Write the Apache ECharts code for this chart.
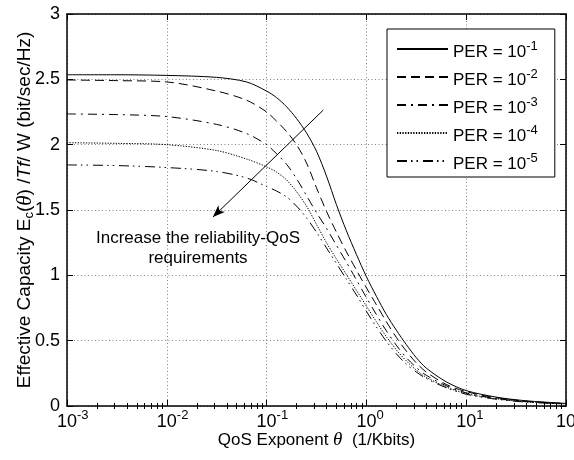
<!DOCTYPE html>
<html><head><meta charset="utf-8">
<script src="https://cdn.jsdelivr.net/npm/echarts@6/dist/echarts.min.js"></script>
<style>html,body{margin:0;padding:0;background:#fff}#c{width:574px;height:460px}</style>
</head><body><div id="c"></div>
<script>
// QoS exponent theta (1/Kbits)
const theta = [0.001, 0.003162, 0.01, 0.03162, 0.0631, 0.1, 0.1259, 0.1585, 0.1995, 0.2512, 0.3162, 0.3981, 0.5012, 0.631, 0.7943, 1, 1.259, 1.585, 1.995, 2.512, 3.162, 3.981, 6.31, 10, 19.95, 39.81, 100];
// Effective capacity (bit/sec/Hz) for each PER
const ecPer1 = [2.535, 2.535, 2.53, 2.515, 2.48, 2.41, 2.36, 2.29, 2.20, 2.09, 1.95, 1.76, 1.54, 1.34, 1.16, 0.99, 0.84, 0.70, 0.58, 0.47, 0.37, 0.29, 0.185, 0.118, 0.068, 0.04, 0.02];
const ecPer2 = [2.495, 2.49, 2.48, 2.41, 2.34, 2.25, 2.18, 2.10, 2.0, 1.86, 1.67, 1.49, 1.33, 1.18, 1.04, 0.905, 0.775, 0.645, 0.525, 0.42, 0.33, 0.26, 0.165, 0.11, 0.063, 0.037, 0.018];
const ecPer3 = [2.235, 2.23, 2.215, 2.155, 2.085, 2.0, 1.93, 1.85, 1.74, 1.61, 1.48, 1.36, 1.23, 1.10, 0.965, 0.83, 0.70, 0.575, 0.465, 0.37, 0.295, 0.235, 0.155, 0.10, 0.058, 0.034, 0.017];
const ecPer4 = [2.015, 2.01, 2.0, 1.955, 1.89, 1.83, 1.79, 1.73, 1.64, 1.53, 1.39, 1.25, 1.125, 1.005, 0.885, 0.765, 0.645, 0.53, 0.43, 0.345, 0.275, 0.22, 0.145, 0.095, 0.055, 0.032, 0.016];
const ecPer5 = [1.845, 1.84, 1.825, 1.795, 1.745, 1.68, 1.645, 1.60, 1.53, 1.44, 1.33, 1.21, 1.09, 0.97, 0.85, 0.725, 0.605, 0.495, 0.40, 0.32, 0.26, 0.21, 0.14, 0.09, 0.052, 0.03, 0.015];
const perExp = ['-1', '-2', '-3', '-4', '-5'];
const yTicks = [0, 0.5, 1, 1.5, 2, 2.5, 3];
// annotation arrow (data coords) and text
const arrowFrom = [0.37, 2.265];
const arrowTo = [0.029, 1.446];
const annoText = 'Increase the reliability-QoS\nrequirements';

const FONT = "'Liberation Sans', Arial, Helvetica, sans-serif";
const SERIF = "'Liberation Serif', 'DejaVu Serif', serif";
const dashStyles = ['solid', [9, 5], [9, 5, 2, 5], [1.3, 1.4], [10, 4, 1.5, 4, 1.5, 5]];
const seriesValues = [ecPer1, ecPer2, ecPer3, ecPer4, ecPer5];
const names = perExp.map(e => 'PER = 10^' + e);

const xMinorTicks = [];
for (let d = 0.001; d < 100; d *= 10) {
  for (let k = 2; k <= 9; k++) xMinorTicks.push(+(d * k).toPrecision(3));
}

const chart = echarts.init(document.getElementById('c'), null, {renderer: 'canvas'});

const baseX = {type: 'log', logBase: 10, min: 0.001, max: 100, gridIndex: 0};
const gridLine = {color: '#808080', width: 1, type: [1, 2.5]};

const series = seriesValues.map((vals, i) => ({
  name: names[i],
  type: 'line',
  xAxisIndex: 0, yAxisIndex: 0,
  data: theta.map((t, j) => [t, vals[j]]),
  symbol: 'none',
  showSymbol: false,
  smooth: 0.3,
  lineStyle: {color: '#000', width: 1, type: dashStyles[i]},
  itemStyle: {color: '#000'},
  z: 3,
  animation: false
}));
series[0].markLine = {
  silent: true,
  animation: false,
  symbol: ['none', 'arrow'],
  symbolSize: [7, 12],
  label: {show: false},
  lineStyle: {color: '#000', width: 1, type: 'solid'},
  data: [[{coord: arrowFrom}, {coord: arrowTo}]]
};

const option = {
  animation: false,
  backgroundColor: '#fff',
  grid: {left: 67, right: 8, top: 14, bottom: 54, containLabel: false, outerBoundsMode: 'none'},
  xAxis: [
    Object.assign({}, baseX, {
      position: 'bottom',
      axisLine: {show: true, onZero: false, lineStyle: {color: '#000', width: 1.5}},
      axisTick: {show: true, inside: true, length: 6, lineStyle: {color: '#000', width: 1}},
      minorTick: {show: false},
      splitLine: {show: true, lineStyle: gridLine},
      axisLabel: {
        margin: 6,
        formatter: v => {
          const e = String(Math.round(Math.log10(v)));
          return '{h|' + e + '}{b|10}{s|' + e + '}';
        },
        rich: {
          b: {fontSize: 18, lineHeight: 20, fontFamily: FONT, color: '#000'},
          s: {fontSize: 13, lineHeight: 12, padding: [0, 0, 14, 0], fontFamily: FONT, color: '#000'},
          h: {fontSize: 13, lineHeight: 12, padding: [0, 0, 14, 0], fontFamily: FONT, color: 'rgba(0,0,0,0)'}
        }
      },
      name: '{n|QoS Exponent }{th|θ}{n|  (1/Kbits)}',
      nameLocation: 'middle',
      nameGap: 24,
      nameMoveOverlap: false,
      nameTextStyle: {
        rich: {
          n: {fontSize: 17, fontFamily: FONT, color: '#000', lineHeight: 20},
          th: {fontSize: 19, fontFamily: SERIF, fontStyle: 'italic', color: '#000', lineHeight: 20}
        }
      }
    }),
    Object.assign({}, baseX, {
      position: 'bottom',
      axisLine: {show: false},
      axisTick: {show: true, inside: true, length: 3, customValues: xMinorTicks, lineStyle: {color: '#000', width: 1}},
      axisLabel: {show: false},
      splitLine: {show: false}
    }),
    Object.assign({}, baseX, {
      position: 'top',
      axisLine: {show: true, onZero: false, lineStyle: {color: '#000', width: 1.5}},
      axisTick: {show: true, inside: true, length: 6, lineStyle: {color: '#000', width: 1}},
      axisLabel: {show: false},
      splitLine: {show: false}
    }),
    Object.assign({}, baseX, {
      position: 'top',
      axisLine: {show: false},
      axisTick: {show: true, inside: true, length: 3, customValues: xMinorTicks, lineStyle: {color: '#000', width: 1}},
      axisLabel: {show: false},
      splitLine: {show: false}
    })
  ],
  yAxis: [
    {
      type: 'value', min: 0, max: 3, interval: 0.5, position: 'left',
      axisLine: {show: true, onZero: false, lineStyle: {color: '#000', width: 1.5}},
      axisTick: {show: true, inside: true, length: 6, lineStyle: {color: '#000', width: 1}},
      splitLine: {show: true, lineStyle: gridLine},
      axisLabel: {margin: 7, fontSize: 18, fontFamily: FONT, color: '#000',
        customValues: yTicks, formatter: v => String(v)},
      name: '{n|Effective Capacity E}{sub|c}{n|(}{th|θ}{n|) /}{it|Tf}{n|/ W (bit/sec/Hz)}',
      nameLocation: 'middle',
      nameGap: 31,
      nameMoveOverlap: false,
      nameTextStyle: {
        rich: {
          n: {fontSize: 19, fontFamily: FONT, color: '#000', lineHeight: 22},
          sub: {fontSize: 13, fontFamily: FONT, color: '#000', lineHeight: 12, padding: [9, 0, 0, 0]},
          th: {fontSize: 21, fontFamily: SERIF, fontStyle: 'italic', color: '#000', lineHeight: 22},
          it: {fontSize: 19, fontFamily: FONT, fontStyle: 'italic', color: '#000', lineHeight: 22}
        }
      }
    },
    {
      type: 'value', min: 0, max: 3, interval: 0.5, position: 'right',
      axisLine: {show: true, onZero: false, lineStyle: {color: '#000', width: 1.5}},
      axisTick: {show: true, inside: true, length: 6, lineStyle: {color: '#000', width: 1}},
      axisLabel: {show: false},
      splitLine: {show: false}
    }
  ],
  legend: {
    orient: 'vertical',
    left: 387, top: 29,
    padding: [8, 17, 4, 9],
    itemGap: 4,
    itemWidth: 51,
    itemHeight: 14,
    borderColor: '#000',
    borderWidth: 1,
    borderRadius: 0,
    backgroundColor: '#fff',
    selectedMode: false,
    itemStyle: {color: 'rgba(0,0,0,0)', borderColor: 'rgba(0,0,0,0)', borderWidth: 0, opacity: 0},
    data: names,
    formatter: name => {
      const e = perExp[names.indexOf(name)];
      return '{a|PER = 10}{s|' + e + '}';
    },
    textStyle: {
      rich: {
        a: {fontSize: 17, fontFamily: FONT, color: '#000', lineHeight: 20, padding: [7, 0, 0, 0]},
        s: {fontSize: 13, fontFamily: FONT, color: '#000', lineHeight: 12, padding: [0, 0, 5, 0]}
      }
    }
  },
  graphic: [{
    type: 'text',
    x: 198, y: 228,
    z: 10,
    style: {text: annoText, textAlign: 'center', textVerticalAlign: 'top',
      fontSize: 17, fontFamily: FONT, fill: '#000', lineHeight: 20}
  }],
  series: series
};
chart.setOption(option);
</script></body></html>
